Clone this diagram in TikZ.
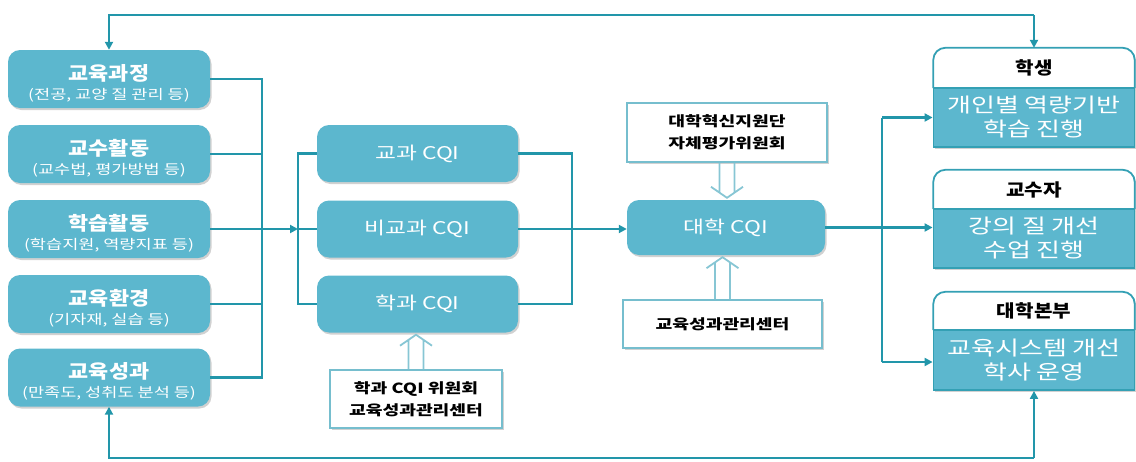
\documentclass[tikz,border=0pt]{standalone}
\usepackage{fontspec}
\setmainfont[FakeStretch=1.15]{Noto Sans CJK KR}
\newfontfamily\krw[FakeStretch=1.3]{Noto Sans CJK KR}
\usetikzlibrary{arrows.meta,shadows,calc}
\definecolor{boxc}{RGB}{92,183,206}
\definecolor{linec}{RGB}{34,150,170}
\definecolor{edgec}{RGB}{52,160,180}
\definecolor{outc}{RGB}{118,190,206}
\definecolor{hollowc}{RGB}{135,198,212}
\tikzset{
  x=1pt, y=-1pt,
  shd/.style={drop shadow={shadow xshift=1.5pt, shadow yshift=-2pt, opacity=0.3, fill=black!60}},
  lbox/.style={rectangle, rounded corners=12pt, fill=boxc, minimum width=202pt, minimum height=58pt, text=white, align=center, inner sep=0pt, shd},
  cbox/.style={rectangle, rounded corners=12pt, fill=boxc, minimum width=201pt, minimum height=57pt, text=white, inner sep=0pt, font=\krw\fontsize{17.5}{20}\selectfont, shd},
  obox/.style={rectangle, draw=outc, line width=1.8pt, fill=white, align=center, inner sep=0pt, font=\krw\bfseries\fontsize{14}{22}\selectfont, shd},
  hdr/.style={rectangle, minimum width=201pt, inner sep=0pt, font=\bfseries\fontsize{17.5}{20}\selectfont},
  rbody/.style={rectangle, draw=edgec, line width=1.8pt, fill=boxc, minimum width=201pt, text=white, align=center, inner sep=0pt, font=\krw\fontsize{20}{24}\selectfont, shd},
  conn/.style={draw=linec, line width=2.4pt},
  arr/.style={conn, -{Triangle[length=8pt,width=8pt]}},
  hline/.style={draw=hollowc, line width=1.8pt},
}
\newcommand{\mt}[2]{\rule{0pt}{24pt}{\bfseries\fontsize{19}{20}\selectfont #1}\\[5pt]{\krw\fontsize{13.5}{15}\selectfont #2}}
% hollow double arrow: #1 start anchor, #2 tip anchor, #3 = 1 (down) or -1 (up)
\newcommand{\harrow}[3]{%
\draw[hline] let \p1=(#1), \p2=(#2) in
  (\x1-7.5pt,\y1) -- (\x1-7.5pt,{\y2+(#3)*5pt})
  (\x1+7.5pt,\y1) -- (\x1+7.5pt,{\y2+(#3)*5pt})
  (\x1-16pt,{\y2+(#3)*11pt}) -- (\x1,\y2) -- (\x1+16pt,{\y2+(#3)*11pt});}
\begin{document}
\begin{tikzpicture}
\useasboundingbox (0,0) rectangle (1136,461);
% left boxes
\node[lbox] (kg) at (109,79) {\mt{교육과정}{(전공, 교양 질 관리 등)}};
\node[lbox] (ks) at (109,154) {\mt{교수활동}{(교수법, 평가방법 등)}};
\node[lbox] (hs) at (109,229) {\mt{학습활동}{(학습지원, 역량지표 등)}};
\node[lbox] (kh) at (109,304) {\mt{교육환경}{(기자재, 실습 등)}};
\node[lbox] (ksg) at (109,377.5) {\mt{교육성과}{(만족도, 성취도 분석 등)}};
% CQI boxes
\node[cbox] (c1) at (417.5,153.5) {교과 CQI};
\node[cbox] (c2) at (417.5,229) {비교과 CQI};
\node[cbox] (c3) at (417.5,304) {학과 CQI};
\node[cbox, minimum width=198pt, minimum height=55pt] (dc) at (726,227.5) {대학 CQI};
% outline boxes
\node[obox, minimum width=200pt, minimum height=59pt] (top) at (727,132.5) {대학혁신지원단\\자체평가위원회};
\node[obox, minimum width=199pt, minimum height=48pt] (bot) at (722.5,324) {교육성과관리센터};
\node[obox, minimum width=172pt, minimum height=58pt] (hq) at (416,399) {학과 CQI 위원회\\교육성과관리센터};
% right boxes
\node[hdr, minimum height=40pt] (sH) at (1034,68) {};
\node[hdr, minimum height=39pt] (pH) at (1034,189.5) {};
\node[hdr, minimum height=38pt] (uH) at (1034,311) {};
\foreach \h in {sH,pH,uH}{
  \draw[draw=edgec, line width=1.8pt, fill=white, rounded corners=12pt, shd] (\h.south west) -- (\h.north west) -- (\h.north east) -- (\h.south east);
}
\node[hdr, minimum height=40pt] (sT) at (sH) {학생};
\node[hdr, minimum height=39pt] (pT) at (pH) {교수자};
\node[hdr, minimum height=38pt] (uT) at (uH) {대학본부};
\node[rbody, minimum height=59pt] (sB) at (1034,117.5) {개인별 역량기반\\학습 진행};
\node[rbody, minimum height=59pt] (pB) at (1034,238.5) {강의 질 개선\\수업 진행};
\node[rbody, minimum height=60pt] (uB) at (1034,360) {교육시스템 개선\\학사 운영};
% left bus
\coordinate (lb1) at (262,79);
\coordinate (lb5) at (262,377.5);
\draw[conn] (kg.east) -- (lb1) -- (lb5) -- (ksg.east);
\draw[conn] (ks.east) -- (ks.east -| lb1);
\draw[conn] (kh.east) -- (kh.east -| lb1);
\coordinate (mb1) at (298,153.5);
\coordinate (mb3) at (298,304);
\draw[arr] (hs.east) -- (hs.east -| mb1);
\draw[conn] (c1.west) -- (mb1) -- (mb3) -- (c3.west);
\draw[conn] (c2.west) -- (c2.west -| mb1);
% right of CQI
\coordinate (rb1) at (572,153.5);
\coordinate (rb3) at (572,304);
\draw[conn] (c1.east) -- (rb1) -- (rb3) -- (c3.east);
\draw[arr] (c2.east) -- (c2.east -| dc.west);
% hollow arrows
\harrow{top.south}{$(dc.north)+(0,-2)$}{1}
\harrow{bot.north}{$(dc.south)+(0,2)$}{-1}
\harrow{hq.north}{$(c3.south)+(0,2)$}{-1}
% distribution
\coordinate (db1) at (882,117.5);
\coordinate (db3) at (882,362);
\draw[conn] (dc.east) -- (dc.east -| db1);
\draw[conn] (db1) -- (db3);
\draw[arr] (db1) -- (sB.west);
\draw[arr] (dc.east -| db1) -- (dc.east -| pB.west);
\draw[arr] (db3) -- (db3 -| uB.west);
% feedback loops
\coordinate (tl) at (109,15);
\coordinate (bl) at (109,458);
\draw[arr] (tl -| sH.north) -- (tl) -- (kg.north);
\draw[arr] (tl -| sH.north) -- (sH.north);
\draw[arr] (bl -| uB.south) -- (uB.south);
\draw[arr] (bl -| uB.south) -- (bl) -- (ksg.south);
\end{tikzpicture}
\end{document}
